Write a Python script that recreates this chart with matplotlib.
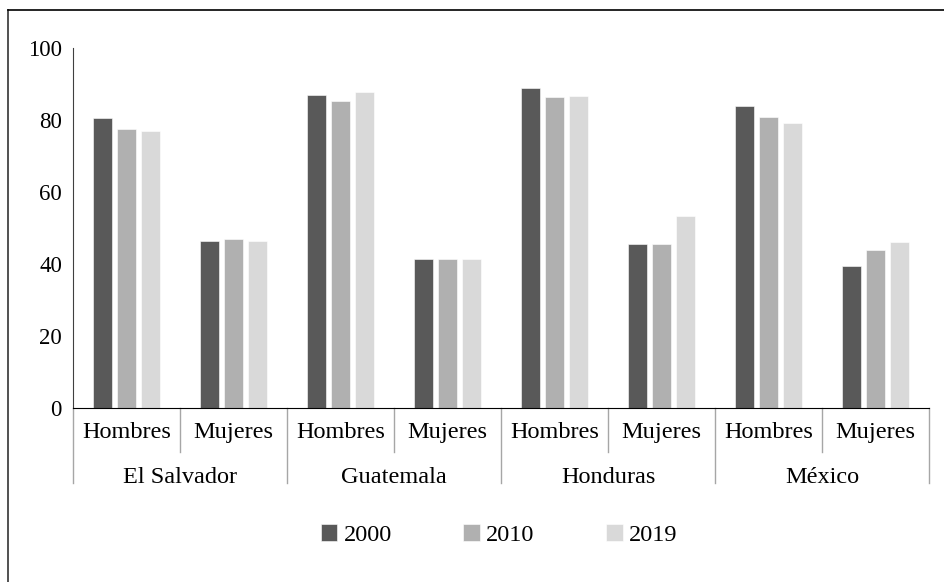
import numpy as np
import matplotlib.pyplot as plt
from matplotlib.lines import Line2D
import matplotlib.transforms as mtransforms

plt.rcParams['font.family'] = ['Liberation Serif', 'DejaVu Serif']

# data
countries = ["El Salvador", "Guatemala", "Honduras", "México"]
sexes = ["Hombres", "Mujeres"]
years = ["2000", "2010", "2019"]
v2000 = [80.5, 46.4, 87.0, 41.5, 89.0, 45.6, 84.0, 39.5]
v2010 = [77.6, 47.0, 85.4, 41.5, 86.3, 45.6, 80.8, 43.8]
v2019 = [77.0, 46.4, 87.8, 41.5, 86.8, 53.2, 79.3, 46.2]
colors = ["#595959", "#b0b0b0", "#d9d9d9"]

fig = plt.figure(figsize=(9.45, 5.82), dpi=100)
ax = fig.add_axes([73/945, 1-408/582, 856/945, 360/582])

x = np.arange(len(v2000))
width = 0.178
step = 0.224
series = [v2000, v2010, v2019]
for i, vals in enumerate(series):
    ax.bar(x + (i-1)*step, vals, width, color=colors[i], label=years[i],
           edgecolor="white", linewidth=0.4)

ax.set_xlim(-0.5, len(x)-0.5)
ax.set_ylim(0, 100)
ax.set_yticks([0, 20, 40, 60, 80, 100])
ax.tick_params(axis='y', length=0, labelsize=16.5, pad=8)
ax.set_xticks([])
for s in ["top", "right"]:
    ax.spines[s].set_visible(False)
ax.spines["left"].set_color("#404040")
ax.spines["bottom"].set_color("black")

trans = mtransforms.blended_transform_factory(ax.transData, ax.transAxes)
sep_col = "#a6a6a6"
fs = 17.5
# sex labels and short separators
for k in range(len(x)):
    ax.text(x[k], -0.069, sexes[k % 2], transform=trans, ha="center", va="center", fontsize=fs)
    if k % 2 == 1:
        ax.plot([k-0.5, k-0.5], [0, -0.122], transform=trans, color=sep_col, lw=1, clip_on=False)
# country labels and long separators
for c in range(len(countries)):
    ax.text(2*c + 0.5, -0.192, countries[c], transform=trans, ha="center", va="center", fontsize=fs)
for c in range(len(countries)+1):
    ax.plot([2*c-0.5, 2*c-0.5], [0, -0.208], transform=trans, color=sep_col, lw=1, clip_on=False)

fig.legend(loc="center", bbox_to_anchor=(499/945, 1-535/582), ncol=3, frameon=False,
           fontsize=fs, handlelength=0.68, handleheight=0.68, handletextpad=0.25,
           columnspacing=2.95)

# outer frame (left and top only)
fig.add_artist(Line2D([8/945, 8/945], [0, 1-10/582], transform=fig.transFigure, color="#333333", lw=1.2))
fig.add_artist(Line2D([8/945, 1], [1-10/582, 1-10/582], transform=fig.transFigure, color="black", lw=1.2))

plt.savefig("out.png", dpi=100)
